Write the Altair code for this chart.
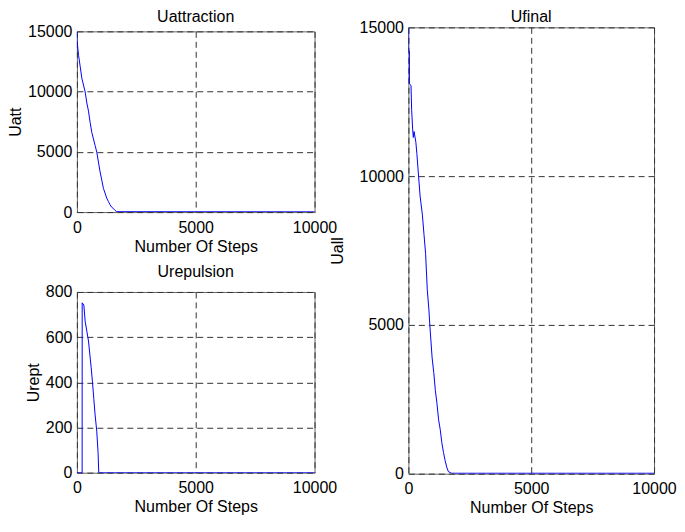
import altair as alt
import pandas as pd

# Uattraction
att_steps = [0, 0, 28, 70, 140, 209, 349, 418, 488, 558, 628, 697, 767, 837, 907, 976, 1046,
             1116, 1185, 1255, 1325, 1395, 1464, 1534, 1604, 1674, 10000]
att_vals = [15000, 14300, 13830, 13010, 12060, 11100, 9960, 9060, 8380, 7430, 6610, 6060, 5520,
            4970, 4150, 3340, 2660, 1970, 1570, 1160, 880, 610, 400, 300, 140, 30, 20]

# Urepulsion
rep_steps = [0, 220, 223, 292, 348, 418, 487, 543, 599, 655, 710, 766, 836, 891, 919, 10000]
rep_vals = [0, 0, 752, 742, 670, 626, 583, 525, 467, 402, 329, 256, 184, 90, 0, 0]

# Ufinal
fin_steps = [0, 0, 40, 40, 106, 132, 172, 200, 230, 304, 344, 410, 476, 569, 635, 701, 768, 833,
             873, 966, 1032, 1098, 1164, 1230, 1296, 1362, 1429, 1495, 1561, 1627, 1759, 10000]
fin_vals = [15000, 14200, 14200, 13100, 13050, 12230, 11580, 11300, 11500, 11140, 10760, 10040,
            9330, 8700, 8040, 7390, 6180, 5530, 4980, 3890, 3400, 2790, 2350, 1810, 1480, 1040,
            710, 440, 220, 70, 15, 15]

x_ticks = [0, 5000, 10000]
att_ticks = [0, 5000, 10000, 15000]
rep_ticks = [0, 200, 400, 600, 800]
fin_ticks = [0, 5000, 10000, 15000]

BLUE = "#0000ff"


def panel(steps, vals, title, ytitle, ymax, yticks, w, h, toff, ytp):
    df = pd.DataFrame({"step": steps, "val": vals})
    return alt.Chart(df, title=alt.TitleParams(title, offset=toff, frame="group")).mark_line(
        color=BLUE, strokeWidth=1, clip=True
    ).encode(
        x=alt.X("step:Q", title="Number Of Steps",
                scale=alt.Scale(domain=[0, 10000], nice=False, zero=False),
                axis=alt.Axis(values=x_ticks, labelFlush=False, format="d",
                              labelPadding=7, titlePadding=3)),
        y=alt.Y("val:Q", title=ytitle,
                scale=alt.Scale(domain=[0, ymax], nice=False),
                axis=alt.Axis(values=yticks, format="d", labelPadding=5,
                              titlePadding=ytp)),
        order=alt.Order("idx:Q"),
    ).transform_window(idx="row_number()").properties(width=w, height=h)


top = panel(att_steps, att_vals, "Uattraction", "Uatt", 15000, att_ticks, 238, 181, -2, 4)
bottom = panel(rep_steps, rep_vals, "Urepulsion", "Urept", 800, rep_ticks, 238, 181, 3.5, 4)
right = panel(fin_steps, fin_vals, "Ufinal", "Uall", 15000, fin_ticks, 246, 447, -6, 14)

spacer = alt.Chart(pd.DataFrame({"v": [0]})).mark_point(opacity=0).encode(
    x=alt.X("v:Q", axis=None), y=alt.Y("v:Q", axis=None)
).properties(width=238, height=4, view=alt.ViewBackground(stroke=None))

left = alt.vconcat(spacer, alt.vconcat(top, bottom, spacing=80, bounds="flush"),
                   spacing=0, bounds="flush")

chart = alt.hconcat(left, right, spacing=332, bounds="flush").properties(
    padding={"top": 0, "left": -1, "right": 0, "bottom": 0}
).configure(
    font="Liberation Sans"
).configure_view(
    stroke="#666666", strokeWidth=1
).configure_axis(
    domain=False, ticks=False, grid=True, gridDash=[6, 4], gridColor="#333333",
    gridWidth=1, labelFontSize=16, titleFontSize=16, labelColor="black",
    titleColor="black", titleFontWeight="normal",
    labelFont="Liberation Sans", titleFont="Liberation Sans"
).configure_title(
    fontSize=16, fontWeight="normal", color="black", font="Liberation Sans"
)

chart.save("out.html", embed_options={"renderer": "svg", "actions": False})
